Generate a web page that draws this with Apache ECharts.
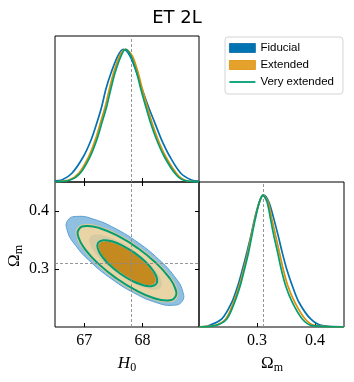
<!DOCTYPE html>
<html>
<head>
<meta charset="utf-8">
<script src="https://cdn.jsdelivr.net/npm/echarts@6/dist/echarts.min.js"></script>
<style>
html,body{margin:0;padding:0;background:#fff;}
#chart{width:354px;height:382px;}
</style>
</head>
<body>
<div id="chart"></div>
<script>
// ---- data ----
const titleText = 'ET 2L';
const seriesNames = ['Fiducial', 'Extended', 'Very extended'];
const h0Ticks = [67, 68];
const omTicks = [0.3, 0.4];
const truthH0 = 67.8;
const truthOm = 0.3089;

// 1D marginal of H0 (normalised to peak = 1)
const fidH0 = [[66.5,0.008],[66.619,0.015],[66.79,0.066],[66.988,0.192],[67.12,0.318],[67.217,0.444],[67.303,0.571],[67.371,0.697],[67.462,0.823],[67.576,0.949],[67.672,1],[67.786,0.949],[67.901,0.823],[67.997,0.697],[68.099,0.571],[68.214,0.444],[68.328,0.318],[68.47,0.192],[68.658,0.066],[68.841,0.015],[68.97,0.006]];
const extH0 = [[66.5,0.002],[66.736,0.015],[66.907,0.066],[67.078,0.192],[67.192,0.318],[67.278,0.444],[67.363,0.571],[67.431,0.697],[67.505,0.823],[67.607,0.949],[67.713,1],[67.828,0.949],[67.926,0.823],[67.999,0.697],[68.08,0.571],[68.165,0.444],[68.268,0.318],[68.398,0.192],[68.581,0.066],[68.722,0.015],[68.97,0.002]];
const vextH0 = [[66.5,0.001],[66.761,0.015],[66.932,0.066],[67.103,0.192],[67.217,0.318],[67.303,0.444],[67.388,0.571],[67.456,0.697],[67.53,0.823],[67.632,0.949],[67.713,1],[67.803,0.949],[67.901,0.823],[67.974,0.697],[68.055,0.571],[68.14,0.444],[68.243,0.318],[68.373,0.192],[68.556,0.066],[68.697,0.015],[68.97,0.001]];

// 1D marginal of Omega_m
const fidOm = [[0.2,0.002],[0.2163,0.01],[0.2393,0.061],[0.2567,0.188],[0.2671,0.315],[0.2752,0.442],[0.2827,0.569],[0.2896,0.695],[0.296,0.822],[0.3042,0.949],[0.3116,1],[0.3203,0.949],[0.3289,0.822],[0.3364,0.695],[0.3433,0.569],[0.351,0.442],[0.3607,0.315],[0.3723,0.188],[0.3925,0.061],[0.4127,0.01],[0.45,0.001]];
const extOm = [[0.2,0.001],[0.226,0.01],[0.246,0.061],[0.2595,0.188],[0.2695,0.315],[0.2772,0.442],[0.2843,0.569],[0.2902,0.695],[0.2964,0.822],[0.3042,0.949],[0.3105,1],[0.319,0.949],[0.3255,0.822],[0.332,0.695],[0.3385,0.569],[0.345,0.442],[0.353,0.315],[0.365,0.188],[0.383,0.061],[0.401,0.01],[0.45,0]];
const vextOm = [[0.2,0],[0.2279,0.01],[0.248,0.061],[0.2614,0.188],[0.2712,0.315],[0.2787,0.442],[0.2856,0.569],[0.2913,0.695],[0.2972,0.822],[0.3042,0.949],[0.3099,1],[0.3173,0.949],[0.3232,0.822],[0.3289,0.695],[0.3354,0.569],[0.3416,0.442],[0.3492,0.315],[0.3607,0.188],[0.378,0.061],[0.3953,0.01],[0.45,0]];

// 2D contours [H0, Omega_m] (outer = 95%, inner = 68%)
const fidOuter = [[68.680,0.2442],[68.520,0.2374],[68.236,0.2422],[67.870,0.2580],[67.478,0.2823],[67.120,0.3115],[66.850,0.3410],[66.710,0.3664],[66.720,0.3839],[66.880,0.3907],[67.164,0.3858],[67.530,0.3700],[67.922,0.3457],[68.280,0.3165],[68.550,0.2870],[68.690,0.2616]];
const fidInner = [[68.317,0.2687],[68.218,0.2645],[68.042,0.2675],[67.815,0.2772],[67.572,0.2923],[67.350,0.3104],[67.183,0.3287],[67.096,0.3445],[67.103,0.3553],[67.202,0.3595],[67.378,0.3565],[67.605,0.3468],[67.848,0.3317],[68.070,0.3137],[68.237,0.2953],[68.324,0.2796]];
const extOuter = [[68.587,0.2493],[68.446,0.2431],[68.198,0.2472],[67.879,0.2608],[67.538,0.2818],[67.227,0.3072],[66.993,0.3330],[66.873,0.3553],[66.884,0.3707],[67.024,0.3769],[67.272,0.3728],[67.591,0.3593],[67.932,0.3382],[68.243,0.3128],[68.477,0.2870],[68.597,0.2647]];
const extInner = [[68.215,0.2762],[68.135,0.2725],[67.995,0.2746],[67.817,0.2821],[67.627,0.2938],[67.454,0.3080],[67.324,0.3225],[67.258,0.3351],[67.265,0.3438],[67.345,0.3475],[67.485,0.3454],[67.663,0.3379],[67.853,0.3262],[68.026,0.3120],[68.156,0.2975],[68.222,0.2849]];
const vextOuter = [[68.559,0.2513],[68.426,0.2458],[68.188,0.2501],[67.882,0.2635],[67.553,0.2840],[67.251,0.3084],[67.024,0.3331],[66.904,0.3543],[66.911,0.3687],[67.044,0.3742],[67.282,0.3699],[67.588,0.3565],[67.918,0.3361],[68.219,0.3116],[68.446,0.2869],[68.566,0.2657]];
const vextInner = [[68.238,0.2745],[68.153,0.2704],[68.005,0.2723],[67.816,0.2800],[67.616,0.2923],[67.435,0.3072],[67.300,0.3226],[67.232,0.3360],[67.242,0.3455],[67.327,0.3496],[67.476,0.3477],[67.664,0.3400],[67.864,0.3277],[68.046,0.3128],[68.180,0.2974],[68.248,0.2840]];

// ---- styling ----
const C_BLUE = '#0173b2', C_ORANGE = '#de8f05', C_GREEN = '#029e73';
const SERIF = '"Liberation Serif", "DejaVu Serif", serif';
const SANS = '"DejaVu Sans", sans-serif';
const LEG = '"Liberation Sans", "DejaVu Sans", sans-serif';

const H0_MIN = 66.5, H0_MAX = 68.97, OM_MIN = 0.2, OM_MAX = 0.45;

function tickAxis(extra) {
  return Object.assign({
    type: 'value',
    splitLine: { show: false },
    axisLine: { show: false },
    axisTick: { show: false },
    axisLabel: { show: false }
  }, extra);
}
function inTicks(vals) {
  return { show: true, inside: true, length: 4, customValues: vals, lineStyle: { color: '#000', width: 1 } };
}
function labels(vals, fmt) {
  return { show: true, customValues: vals, formatter: fmt, fontFamily: SERIF, fontSize: 16, color: '#000', margin: 6 };
}

function contour(name, pts, style, z) {
  return {
    type: 'custom', name: name, xAxisIndex: 1, yAxisIndex: 1, silent: true, z: z,
    data: [[pts[0][0], pts[0][1]]],
    renderItem: function (params, api) {
      return {
        type: 'polygon',
        shape: { points: pts.map(function (p) { return api.coord(p); }), smooth: 0.5 },
        style: style
      };
    }
  };
}

function curve(name, data, color, ax, z, extra) {
  return Object.assign({
    type: 'line', name: name, xAxisIndex: ax, yAxisIndex: ax, data: data,
    symbol: 'none', showSymbol: false, smooth: 0.3,
    lineStyle: { color: color, width: 1.7 }, itemStyle: { color: color }, z: z
  }, extra || {});
}

const dashed = { type: [3, 2], color: '#8a8a8a', width: 0.9 };
const lineIcon = 'path://M0,0 M26,9 M0,3.6 L26,3.6 L26,5.4 L0,5.4 Z';

const chart = echarts.init(document.getElementById('chart'), null, { renderer: 'canvas' });
chart.setOption({
  animation: false,
  backgroundColor: '#fff',
  grid: [
    { left: 55, top: 36, width: 144, height: 146, show: true, borderColor: '#000', borderWidth: 1, backgroundColor: 'transparent' },
    { left: 55, top: 182, width: 144, height: 145, show: true, borderColor: '#000', borderWidth: 1, backgroundColor: 'transparent' },
    { left: 199, top: 182, width: 145, height: 145, show: true, borderColor: '#000', borderWidth: 1, backgroundColor: 'transparent' }
  ],
  xAxis: [
    tickAxis({ gridIndex: 0, min: H0_MIN, max: H0_MAX, axisTick: inTicks(h0Ticks) }),
    tickAxis({ gridIndex: 1, min: H0_MIN, max: H0_MAX, position: 'bottom', axisTick: inTicks(h0Ticks), axisLabel: labels(h0Ticks, function (v) { return String(Math.round(v)); }) }),
    tickAxis({ gridIndex: 1, min: H0_MIN, max: H0_MAX, position: 'top', axisTick: inTicks(h0Ticks) }),
    tickAxis({ gridIndex: 2, min: OM_MIN, max: OM_MAX, axisTick: inTicks(omTicks), axisLabel: labels(omTicks, function (v) { return v.toFixed(1); }) })
  ],
  yAxis: [
    tickAxis({ gridIndex: 0, min: 0, max: 1.1 }),
    tickAxis({ gridIndex: 1, min: OM_MIN, max: OM_MAX, position: 'left', axisTick: inTicks(omTicks), axisLabel: labels(omTicks, function (v) { return v.toFixed(1); }) }),
    tickAxis({ gridIndex: 1, min: OM_MIN, max: OM_MAX, position: 'right', axisTick: inTicks(omTicks) }),
    tickAxis({ gridIndex: 2, min: 0, max: 1.1 })
  ],
  legend: {
    orient: 'vertical', left: 225, top: 37,
    padding: [4, 9, 5, 4], itemWidth: 26, itemHeight: 9, itemGap: 3, itemTextGap: 10,
    backgroundColor: '#fff', borderColor: '#d4d4d4', borderWidth: 1, borderRadius: 3,
    selectedMode: false,
    textStyle: { fontFamily: LEG, fontSize: 11.5, color: '#000', lineHeight: 14 },
    data: [
      { name: seriesNames[0], icon: 'rect', itemStyle: { color: C_BLUE, borderColor: '#0a6aa3', borderWidth: 0.8 } },
      { name: seriesNames[1], icon: 'rect', itemStyle: { color: '#e4a12c', borderColor: C_ORANGE, borderWidth: 0.8 } },
      { name: seriesNames[2], icon: lineIcon, itemStyle: { color: C_GREEN, borderWidth: 0 } }
    ]
  },
  series: [
    // H0 marginals
    curve(seriesNames[0], fidH0, C_BLUE, 0, 3, {
      markLine: { silent: true, symbol: 'none', label: { show: false }, lineStyle: dashed, data: [{ xAxis: truthH0 }], z: 2 } }),
    curve(seriesNames[1], extH0, C_ORANGE, 0, 4),
    curve(seriesNames[2], vextH0, C_GREEN, 0, 5),
    // Omega_m marginals (axes index 3)
    curve(seriesNames[0], fidOm, C_BLUE, 3, 3, {
      markLine: { silent: true, symbol: 'none', label: { show: false }, lineStyle: dashed, data: [{ xAxis: truthOm }], z: 2 } }),
    curve(seriesNames[1], extOm, C_ORANGE, 3, 4),
    curve(seriesNames[2], vextOm, C_GREEN, 3, 5),
    // 2D contours
    contour(seriesNames[0], fidOuter, { fill: '#8fc0e1', stroke: '#5a9fd1', lineWidth: 1 }, 2),
    contour(seriesNames[1], extOuter, { fill: '#e8d4a5', stroke: '#dcc088', lineWidth: 0.6 }, 3),
    contour(seriesNames[0], fidInner, { fill: 'rgba(150,170,160,0.22)', stroke: null }, 4),
    contour(seriesNames[1], extInner, { fill: '#c48a1f', stroke: null }, 5),
    contour(seriesNames[2], vextOuter, { fill: null, stroke: C_GREEN, lineWidth: 2 }, 6),
    contour(seriesNames[2], vextInner, { fill: null, stroke: C_GREEN, lineWidth: 2 }, 6),
    // truth lines in the 2D panel
    { type: 'line', name: 'truth', xAxisIndex: 1, yAxisIndex: 1, data: [[truthH0, truthOm]], symbol: 'none', lineStyle: { opacity: 0 }, z: 7,
      markLine: { silent: true, symbol: 'none', label: { show: false }, lineStyle: dashed, data: [{ xAxis: truthH0 }, { yAxis: truthOm }], z: 7 } }
  ],
  graphic: [
    { type: 'text', x: 177, y: 18.5, style: { text: titleText, fontFamily: SANS, fontSize: 18, fill: '#000', align: 'center', verticalAlign: 'middle' } },
    { type: 'text', x: 127, y: 364, style: { text: '{a|H}{b|0}', align: 'center', verticalAlign: 'middle', fill: '#000',
        rich: { a: { fontFamily: SERIF, fontStyle: 'italic', fontSize: 17 }, b: { fontFamily: SERIF, fontSize: 12, padding: [7, 0, 0, 0] } } } },
    { type: 'text', x: 272, y: 364, style: { text: '{a|Ω}{b|m}', align: 'center', verticalAlign: 'middle', fill: '#000',
        rich: { a: { fontFamily: SERIF, fontSize: 17 }, b: { fontFamily: SERIF, fontSize: 12, padding: [7, 0, 0, 0] } } } },
    { type: 'text', x: 15, y: 256, rotation: Math.PI / 2, style: { text: '{a|Ω}{b|m}', align: 'center', verticalAlign: 'middle', fill: '#000',
        rich: { a: { fontFamily: SERIF, fontSize: 17 }, b: { fontFamily: SERIF, fontSize: 12, padding: [7, 0, 0, 0] } } } }
  ]
});
</script>
</body>
</html>
